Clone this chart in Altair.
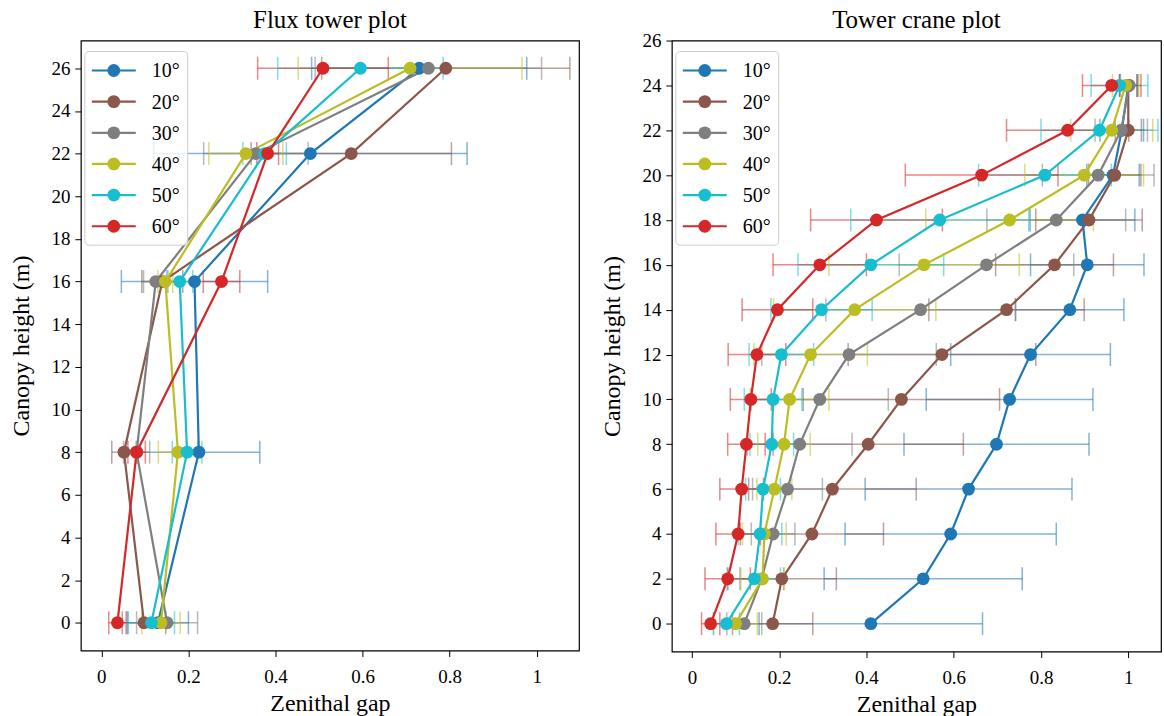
import altair as alt
import pandas as pd

SERIES = ["10°", "20°", "30°", "40°", "50°", "60°"]
COLORS = ["#1f77b4", "#8c564b", "#7f7f7f", "#bcbd22", "#17becf", "#d62728"]

# Flux tower plot
FLUX_H = [0, 8, 16, 22, 26]
FLUX_G = {
    "10°": [0.130, 0.224, 0.214, 0.480, 0.730],
    "20°": [0.098, 0.052, 0.140, 0.574, 0.791],
    "30°": [0.151, 0.081, 0.125, 0.355, 0.751],
    "40°": [0.137, 0.176, 0.147, 0.332, 0.709],
    "50°": [0.115, 0.197, 0.180, 0.375, 0.595],
    "60°": [0.037, 0.081, 0.276, 0.382, 0.509],
}
FLUX_E = {
    "10°": [0.070, 0.140, 0.168, 0.360, 0.247],
    "20°": [0.050, 0.028, 0.047, 0.230, 0.285],
    "30°": [0.070, 0.030, 0.028, 0.120, 0.260],
    "40°": [0.044, 0.045, 0.017, 0.085, 0.257],
    "50°": [0.053, 0.034, 0.030, 0.050, 0.190],
    "60°": [0.020, 0.020, 0.042, 0.025, 0.150],
}

# Tower crane plot
CRANE_H = [0, 2, 4, 6, 8, 10, 12, 14, 16, 18, 20, 22, 24]
CRANE_G = {
    "10°": [0.410, 0.530, 0.593, 0.634, 0.698, 0.728, 0.776, 0.866, 0.906, 0.895, 0.965, 0.985, 1.000],
    "20°": [0.185, 0.206, 0.275, 0.322, 0.404, 0.480, 0.573, 0.721, 0.831, 0.910, 0.969, 1.000, 1.000],
    "30°": [0.120, 0.160, 0.186, 0.219, 0.247, 0.293, 0.360, 0.524, 0.675, 0.835, 0.931, 0.984, 1.002],
    "40°": [0.100, 0.162, 0.166, 0.189, 0.211, 0.224, 0.272, 0.373, 0.532, 0.728, 0.899, 0.962, 0.994],
    "50°": [0.079, 0.143, 0.156, 0.163, 0.183, 0.186, 0.205, 0.297, 0.410, 0.568, 0.809, 0.934, 0.980],
    "60°": [0.043, 0.082, 0.106, 0.114, 0.125, 0.135, 0.149, 0.196, 0.293, 0.423, 0.664, 0.861, 0.962],
}
CRANE_E = {
    "10°": [0.256, 0.227, 0.242, 0.237, 0.212, 0.191, 0.183, 0.124, 0.130, 0.120, 0.060, 0.050, 0.020],
    "20°": [0.092, 0.125, 0.164, 0.192, 0.218, 0.225, 0.215, 0.178, 0.135, 0.122, 0.060, 0.030, 0.020],
    "30°": [0.040, 0.050, 0.050, 0.080, 0.120, 0.157, 0.200, 0.217, 0.200, 0.159, 0.128, 0.060, 0.020],
    "40°": [0.050, 0.050, 0.050, 0.040, 0.060, 0.090, 0.130, 0.186, 0.218, 0.192, 0.136, 0.094, 0.030],
    "50°": [0.030, 0.060, 0.050, 0.040, 0.050, 0.066, 0.074, 0.116, 0.167, 0.204, 0.152, 0.134, 0.065],
    "60°": [0.021, 0.052, 0.051, 0.050, 0.043, 0.047, 0.066, 0.081, 0.107, 0.151, 0.175, 0.140, 0.067],
}

FONT = "Liberation Serif"


def build_df(heights, gvals, evals):
    rows = []
    for s in SERIES:
        for h, g, e in zip(heights, gvals[s], evals[s]):
            rows.append({"series": s, "h": h, "g": g, "lo": g - e, "hi": g + e})
    return pd.DataFrame(rows)


LEG_DF = pd.DataFrame({"series": SERIES})


def legend_layer():
    col = alt.Color("series:N", scale=alt.Scale(domain=SERIES, range=COLORS), legend=None)
    ly = alt.Y("series:N", scale=alt.Scale(type="point", domain=SERIES, range=[30, 186], padding=0),
               axis=None)
    base = alt.Chart(LEG_DF)
    box = base.mark_rect(fill="white", fillOpacity=0.8, stroke="#cccccc", strokeWidth=1,
                         cornerRadius=4).encode(
        x=alt.value(4), x2=alt.value(107), y=alt.value(11), y2=alt.value(205),
    ).transform_filter(alt.datum.series == SERIES[0])
    seg = base.mark_rule(strokeWidth=2.2).encode(
        x=alt.value(11), x2=alt.value(55), y=ly, color=col,
    )
    dot = base.mark_point(filled=True, size=165, opacity=1).encode(
        x=alt.value(33), y=ly, color=col,
    )
    txt = base.mark_text(align="left", baseline="middle", font=FONT, fontSize=20,
                         color="black", dy=1).encode(
        x=alt.value(71), y=ly, text="series:N",
    )
    return alt.layer(box, seg, dot, txt)


def panel(df, title, xdom, ydom, w, h, toff):
    scale = alt.Scale(domain=SERIES, range=COLORS)
    xs = alt.Scale(domain=xdom, nice=False, zero=False)
    ys = alt.Scale(domain=ydom, nice=False, zero=False)
    xax = alt.Axis(values=[0, 0.2, 0.4, 0.6, 0.8, 1], format="~g", title="Zenithal gap")
    yax = alt.Axis(values=list(range(0, 27, 2)), title="Canopy height (m)")
    base = alt.Chart(df)
    y = alt.Y("h:Q", scale=ys, axis=yax)
    col = alt.Color("series:N", scale=scale, legend=None)
    rule = base.mark_rule(strokeWidth=1.5, opacity=0.55).encode(
        x=alt.X("lo:Q", scale=xs, axis=xax), x2="hi:Q", y=y, color=col,
    )
    cap_lo = base.mark_tick(orient="vertical", size=23, thickness=1.5, opacity=0.55).encode(
        x=alt.X("lo:Q", scale=xs, axis=xax), y=y, color=col,
    )
    cap_hi = base.mark_tick(orient="vertical", size=23, thickness=1.5, opacity=0.55).encode(
        x=alt.X("hi:Q", scale=xs, axis=xax), y=y, color=col,
    )
    line = base.mark_line(strokeWidth=2.2).encode(
        x=alt.X("g:Q", scale=xs, axis=xax), y=y, color=col,
        order=alt.Order("h:Q"),
    )
    pts = base.mark_point(filled=True, size=165, opacity=1).encode(
        x=alt.X("g:Q", scale=xs, axis=xax), y=y, color=col,
    )
    data_layer = alt.layer(rule, cap_lo, cap_hi, line, pts)
    return alt.layer(data_layer, legend_layer()).resolve_scale(
        y="independent", color="independent"
    ).properties(
        width=w, height=h,
        title=alt.TitleParams(title, fontSize=25, font=FONT, fontWeight="normal",
                              color="black", frame="group", offset=toff),
    )


left = panel(build_df(FLUX_H, FLUX_G, FLUX_E), "Flux tower plot",
             [-0.047, 1.097], [-1.3, 27.3], 499, 611, 8)
right = panel(build_df(CRANE_H, CRANE_G, CRANE_E), "Tower crane plot",
              [-0.046, 1.075], [-1.24, 26], 490, 612, -1)

chart = (
    alt.hconcat(left, right, spacing=93, bounds="flush")
    .resolve_scale(color="independent", x="independent", y="independent")
    .properties(padding={"left": 9, "top": 6, "right": 2, "bottom": 0}, background="white")
    .configure_view(stroke="black", strokeWidth=1.2)
    .configure_axis(
        grid=False, domain=False, tickColor="black", tickSize=6, tickWidth=1,
        labelFont=FONT, labelFontSize=19, labelColor="black", labelPadding=5,
        titleFont=FONT, titleFontSize=24, titleFontWeight="normal", titleColor="black",
        titlePadding=17,
    )
    .configure_axisX(labelPadding=11, titlePadding=5)
)

chart.save("out.html", embed_options={"renderer": "svg", "actions": False})
